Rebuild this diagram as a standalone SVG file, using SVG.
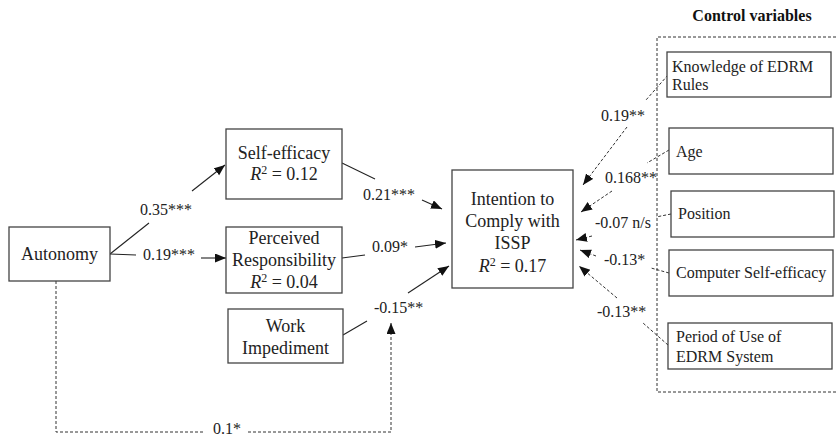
<svg xmlns="http://www.w3.org/2000/svg" width="836" height="436" viewBox="0 0 836 436">
<defs>
<marker id="ah" markerUnits="userSpaceOnUse" markerWidth="12" markerHeight="10" refX="11" refY="4.5" orient="auto">
<path d="M0,0 L11,4.5 L0,9 z" fill="#111"/>
</marker>
<style>
text{font-family:'Liberation Serif','Times New Roman','DejaVu Serif',serif;fill:#222}
.box{fill:#fff;stroke:#444;stroke-width:1.3}
.t{font-size:18px;text-anchor:middle}
.c{font-size:16px}
.lbl{font-size:16px}
.ln{stroke:#222;stroke-width:1.1;fill:none}
.dl{stroke:#333;stroke-width:1;fill:none;stroke-dasharray:3,2}
.title{font-size:16px;font-weight:bold;fill:#111;text-anchor:middle}
</style>
</defs>
<rect width="836" height="436" fill="#fff"/>

<text class="title" x="752" y="21">Control variables</text>
<path class="dl" d="M836,37 H657 V392 H836"/>

<g id="connectors">
<line class="ln" x1="110" y1="254" x2="149" y2="223"/>
<line class="ln" x1="192" y1="191" x2="225" y2="165" marker-end="url(#ah)"/>
<line class="ln" x1="110" y1="254" x2="136" y2="255"/>
<line class="ln" x1="201" y1="258" x2="226" y2="258" marker-end="url(#ah)"/>
<line class="ln" x1="342" y1="163" x2="375" y2="179"/>
<line class="ln" x1="422" y1="200" x2="442" y2="209" marker-end="url(#ah)"/>
<line class="ln" x1="342" y1="258" x2="365" y2="255"/>
<line class="ln" x1="415" y1="247" x2="446" y2="243" marker-end="url(#ah)"/>
<line class="ln" x1="343" y1="335" x2="367" y2="321"/>
<line class="ln" x1="408" y1="293" x2="449" y2="266" marker-end="url(#ah)"/>
<path class="dl" d="M56,281 V432 H204"/>
<path class="dl" d="M248,432 H391 V323" marker-end="url(#ah)"/>
<line class="dl" x1="668" y1="75" x2="646" y2="100"/>
<line class="dl" x1="627" y1="127" x2="583" y2="185" marker-end="url(#ah)"/>
<line class="dl" x1="669" y1="150" x2="647" y2="163"/>
<line class="dl" x1="612" y1="191" x2="581" y2="212" marker-end="url(#ah)"/>
<line class="dl" x1="671" y1="214" x2="656" y2="217"/>
<line class="dl" x1="592" y1="236" x2="576" y2="240" marker-end="url(#ah)"/>
<line class="dl" x1="669" y1="273" x2="651" y2="268"/>
<line class="dl" x1="596" y1="256" x2="580" y2="250" marker-end="url(#ah)"/>
<line class="dl" x1="668" y1="345" x2="643" y2="323"/>
<line class="dl" x1="617" y1="298" x2="579" y2="266" marker-end="url(#ah)"/>
<text class="lbl" x="140" y="215">0.35***</text>
<text class="lbl" x="143" y="260">0.19***</text>
<text class="lbl" x="363" y="200">0.21***</text>
<text class="lbl" x="372" y="252">0.09*</text>
<text class="lbl" x="374" y="313">-0.15**</text>
<text class="lbl" x="213" y="434">0.1*</text>
<text class="lbl" x="601" y="121">0.19**</text>
<text class="lbl" x="605" y="183">0.168**</text>
<text class="lbl" x="595" y="228">-0.07 n/s</text>
<text class="lbl" x="604" y="265">-0.13*</text>
<text class="lbl" x="597" y="317">-0.13**</text>
</g>

<g id="autonomy">
<rect class="box" x="9" y="227" width="101" height="54"/>
<text class="t" x="59.5" y="260">Autonomy</text>
</g>
<g id="self-efficacy">
<rect class="box" x="226" y="129" width="116" height="70"/>
<text class="t" x="284" y="159">Self-efficacy</text>
<text class="t" x="284" y="180"><tspan font-style="italic">R</tspan><tspan font-size="12" dy="-6">2</tspan><tspan dy="6"> = 0.12</tspan></text>
</g>
<g id="perceived-responsibility">
<rect class="box" x="226" y="227" width="116" height="66"/>
<text class="t" x="284" y="244">Perceived</text>
<text class="t" x="284" y="266">Responsibility</text>
<text class="t" x="284" y="288"><tspan font-style="italic">R</tspan><tspan font-size="12" dy="-6">2</tspan><tspan dy="6"> = 0.04</tspan></text>
</g>
<g id="work-impediment">
<rect class="box" x="228" y="309" width="115" height="54"/>
<text class="t" x="285.5" y="332">Work</text>
<text class="t" x="285.5" y="354">Impediment</text>
</g>
<g id="intention">
<rect class="box" x="452" y="170" width="121" height="118"/>
<text class="t" x="512.5" y="205">Intention to</text>
<text class="t" x="512.5" y="227">Comply with</text>
<text class="t" x="512.5" y="249">ISSP</text>
<text class="t" x="512.5" y="272"><tspan font-style="italic">R</tspan><tspan font-size="12" dy="-6">2</tspan><tspan dy="6"> = 0.17</tspan></text>
</g>
<g id="knowledge">
<rect class="box" x="667" y="52" width="164" height="45"/>
<text class="c" x="672" y="72">Knowledge of EDRM</text>
<text class="c" x="672" y="90">Rules</text>
</g>
<g id="age">
<rect class="box" x="669" y="128" width="164" height="46"/>
<text class="c" x="676" y="157">Age</text>
</g>
<g id="position">
<rect class="box" x="671" y="191" width="163" height="46"/>
<text class="c" x="678" y="219">Position</text>
</g>
<g id="computer-self-efficacy">
<rect class="box" x="669" y="250" width="164" height="46"/>
<text class="c" x="676" y="278">Computer Self-efficacy</text>
</g>
<g id="period-of-use">
<rect class="box" x="668" y="323" width="164" height="46"/>
<text class="c" x="676" y="342">Period of Use of</text>
<text class="c" x="676" y="362">EDRM System</text>
</g>
</svg>
